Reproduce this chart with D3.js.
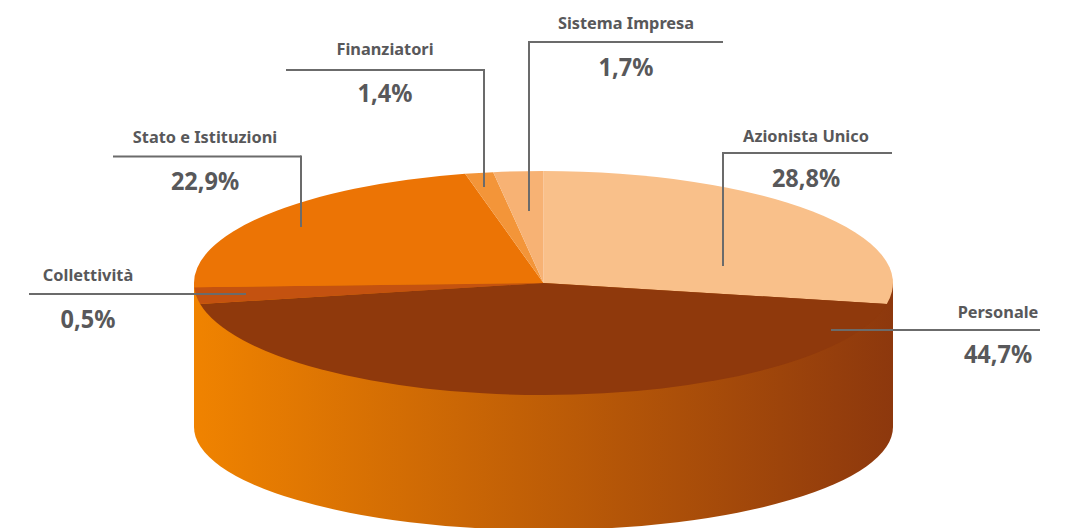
<!DOCTYPE html>
<html><head><meta charset="utf-8">
<script src="https://cdn.jsdelivr.net/npm/d3@7"></script>
<style>html,body{margin:0;padding:0;background:#fff}svg{display:block}</style></head>
<body><svg id="c" width="1065" height="528"></svg>
<script>
const categories = ["Azionista Unico","Personale","Collettività","Stato e Istituzioni","Finanziatori","Sistema Impresa"];
const percentLabels = ["28,8%","44,7%","0,5%","22,9%","1,4%","1,7%"];
// sweep of each slice as it appears in the picture
const drawnShares = [28.0,44.0,2.4,22.0,1.3,2.3];
const sliceColors = ["#f9c08a","#8f390c","#c45210","#ec7405","#f39539","#f7b274"];

const cx=543.5,cy=283,rx=349.5,ry=112,wallY=427,wallRy=103;
const svg=d3.select("#c");
const defs=svg.append("defs");
const grad=defs.append("linearGradient").attr("id","wall").attr("gradientUnits","userSpaceOnUse")
  .attr("x1",cx-rx).attr("x2",cx+rx).attr("y1",0).attr("y2",0);
grad.append("stop").attr("offset",0).attr("stop-color","#f08300");
grad.append("stop").attr("offset",1).attr("stop-color","#8d380d");

svg.append("path").attr("fill","url(#wall)")
  .attr("d",`M${cx-rx},${cy}V${wallY}A${rx},${wallRy} 0 0 0 ${cx+rx},${wallY}V${cy}Z`);

const pie=d3.pie().sort(null).value(d=>d);
const arc=d3.arc().innerRadius(0).outerRadius(rx);
svg.append("g").attr("transform",`translate(${cx},${cy}) scale(1,${ry/rx})`)
  .selectAll("path").data(pie(drawnShares)).join("path")
  .attr("d",arc).attr("fill",(d,i)=>sliceColors[i]);

// callout layout, in category order: horizontal rule, drop line end, text centre and baselines
const callouts=[
 {x1:723,x2:892,y:153,dropX:723,dropY:266,tx:806,ny:142,py:187},
 {x1:831,x2:1040,y:330,tx:998,ny:318,py:363},
 {x1:29,x2:246,y:294,tx:88,ny:281,py:328},
 {x1:113,x2:301,y:156.5,dropX:301,dropY:227,tx:205,ny:143,py:190},
 {x1:286,x2:484,y:70,dropX:484,dropY:187,tx:385,ny:55,py:102},
 {x1:529,x2:723,y:42,dropX:529,dropY:211,tx:626,ny:29,py:76}
];
const ink="#58585a",rule="#6b6b6b",font="'Noto Sans',sans-serif";
callouts.forEach((c,i)=>{
  svg.append("line").attr("x1",c.x1).attr("x2",c.x2).attr("y1",c.y).attr("y2",c.y)
    .attr("stroke",rule).attr("stroke-width",2);
  if(c.dropX!==undefined) svg.append("line").attr("x1",c.dropX).attr("x2",c.dropX)
    .attr("y1",c.y-1).attr("y2",c.dropY).attr("stroke",rule).attr("stroke-width",2);
  const n=svg.append("text").attr("x",c.tx).attr("y",c.ny).attr("text-anchor","middle")
    .attr("font-family",font).attr("font-weight",700).attr("font-size",16.5).attr("fill",ink).text(categories[i]);
  n.attr("textLength",n.node().getComputedTextLength()*0.99).attr("lengthAdjust","spacingAndGlyphs");
  const p=svg.append("text").attr("x",c.tx).attr("y",c.py).attr("text-anchor","middle")
    .attr("font-family",font).attr("font-weight",700).attr("font-size",25).attr("fill",ink).text(percentLabels[i]);
  p.attr("textLength",p.node().getComputedTextLength()*0.94).attr("lengthAdjust","spacingAndGlyphs");
});
</script></body></html>
